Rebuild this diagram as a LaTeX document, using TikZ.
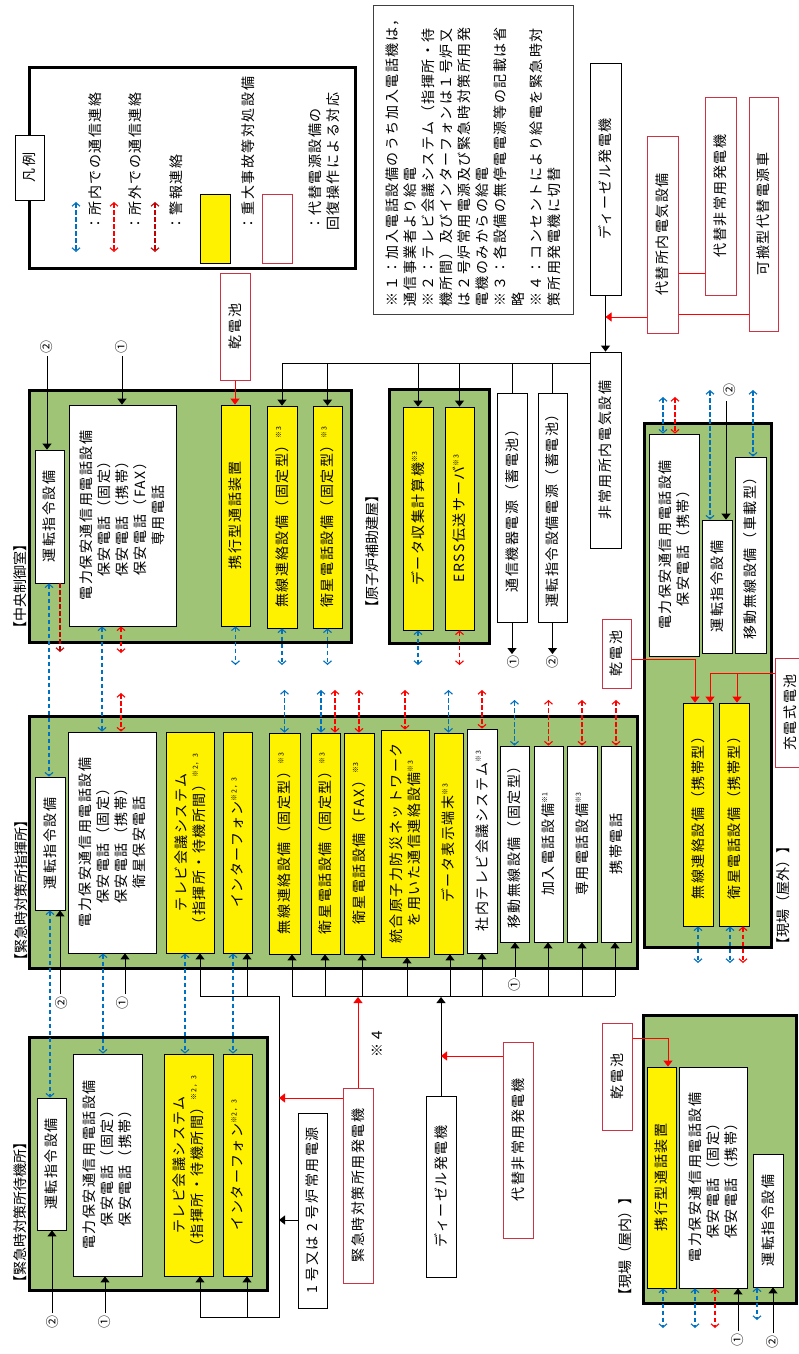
\documentclass[tikz,border=0pt]{standalone}
\usepackage{fontspec}
\setmainfont{Noto Sans CJK JP}
\newfontfamily\jp{Noto Sans CJK JP}[LetterSpace=11]
\newfontfamily\jpl{Noto Sans CJK JP}[LetterSpace=0]
\usetikzlibrary{arrows.meta}
\definecolor{grn}{RGB}{160,196,118}
\definecolor{rbd}{RGB}{204,51,68}
\definecolor{myblue}{RGB}{0,112,192}
\definecolor{myred}{RGB}{255,0,0}
\definecolor{dkred}{RGB}{192,0,0}
\newcommand\sps[1]{\raisebox{0.45em}{\fontsize{7}{7}\selectfont ※#1}}
\newcommand\bx[7]{\node[#1, minimum width={(#6-#4)*1pt}, minimum height={(#5-#3)*1pt}] (#2) at ({(#3+#5)/2},{-(#4+#6)/2}) {#7};}
\begin{document}
\begin{tikzpicture}[x=1pt,y=1pt,
 bse/.style={rotate=90, inner sep=1pt, align=center, font=\jp\fontsize{14}{18}\selectfont, text=black},
 gbx/.style={bse, draw=black, line width=3pt, fill=grn},
 wbx/.style={bse, draw=black, line width=0.8pt, fill=white},
 ybx/.style={bse, draw=black, line width=0.8pt, fill=yellow},
 rbx/.style={bse, draw=rbd, line width=1pt, fill=white},
 lbl/.style={rotate=90, anchor=west, inner sep=0pt, font=\jpl\fontsize{14}{18}\selectfont},
 lgt/.style={rotate=90, anchor=west, inner sep=0pt, font=\jp\fontsize{14}{18}\selectfont},
 cnum/.style={rotate=90, inner sep=0.5pt, font=\jpl\fontsize{13}{13}\selectfont},
 lnk/.style={draw=black, line width=1pt},
 abk/.style={draw=black, line width=1pt, -{Triangle[length=6pt,width=9pt]}},
 ard/.style={draw=myred, line width=1pt, -{Triangle[length=6pt,width=9pt]}},
 rln/.style={draw=myred, line width=1pt},
 dsh/.style={line width=1.1pt, dash pattern=on 4.5pt off 2.5pt},
 tipb/.tip={Straight Barb[length=3.5pt,width=8pt]},
 abd/.style={dsh, draw=myblue, tipb-tipb},
 ared/.style={dsh, draw=myred, tipb-tipb},
 akd/.style={dsh, draw=dkred, tipb-tipb},
 akd1/.style={dsh, draw=dkred, -tipb}]
\fill[white] (0,0) rectangle (798,-1354);
\useasboundingbox (0,0) rectangle (798,-1354);

% ---------- legend ----------
\bx{wbx, line width=3pt}{lgf}{29}{68}{355}{268}{}
\bx{wbx}{lgn}{15}{135}{44}{200}{凡例}
\draw[abd] (76,-202) -- (76,-252);
\draw[ared] (114,-202) -- (114,-252);
\draw[akd] (155,-202) -- (155,-252);
\node[lgt] (lt1) at (95,-231) {：所内での通信連絡};
\node[lgt] (lt2) at (135,-231) {：所外での通信連絡};
\node[lgt] (lt3) at (176,-231) {：警報連絡};
\bx{ybx}{lgy}{200}{194}{230}{263}{}
\node[lgt] (lt4) at (248,-231) {：重大事故等対処設備};
\bx{rbx}{lgr}{262}{194}{292}{263}{}
\node[lgt, align=left, anchor=north west] (lt5) at (309,-231) {：代替電源設備の\\回復操作による対応};

% ---------- notes ----------
\node[bse, draw=black!75, line width=1pt, fill=white, align=left, text width=292pt,
  minimum width=308pt, minimum height=200pt] (notes) at (473,-160)
 {※１：加入電話設備のうち加入電話機は，\\通信事業者より給電\\※２：テレビ会議システム（指揮所・待\\機所間）及びインターフォンは１号炉又\\は２号炉常用電源及び緊急時対策所用発\\電機のみからの給電\\※３：各設備の無停電電源等の記載は省\\略\\※４：コンセントにより給電を緊急時対\\策所用発電機に切替};

% ---------- group boxes ----------
\bx{gbx}{ccr}{29}{390}{351}{642}{}
\bx{gbx}{gen}{389}{389}{489}{643}{}
\bx{gbx}{gy}{644}{423}{771}{947}{}
\bx{gbx}{sk}{29}{716}{637}{968}{}
\bx{gbx}{tk}{29}{1037}{267}{1290}{}
\bx{gbx}{ok}{643}{1015}{796}{1303}{}

\node[lbl] (lccr) at (20,-636) {【中央制御室】};
\node[lbl] (lgen) at (372,-615) {【原子炉補助建屋】};
\node[lbl] (lsk) at (21,-968) {【緊急時対策所指揮所】};
\node[lbl] (ltk) at (20,-1290) {【緊急時対策所待機所】};
\node[lbl] (lgy) at (783,-952) {【現場（屋外）】};
\node[lbl] (lok) at (625,-1303) {【現場（屋内）】};

% ---------- top right power ----------
\bx{wbx}{dg1}{590}{63}{621}{295}{ディーゼル発電機}
\bx{wbx}{hj}{590}{352}{621}{548}{非常用所内電気設備}
\bx{rbx}{dsn}{647}{136}{678}{333}{代替所内電気設備}
\bx{rbx}{dh1}{705}{97}{736}{295}{代替非常用発電機}
\bx{rbx}{kh}{749}{97}{778}{331}{可搬型代替電源車}

% ---------- central control room ----------
\bx{wbx}{c1}{35}{450}{64}{583}{運転指令設備}
\bx{wbx}{c2}{69}{405}{176}{626}{電力保安通信用電話設備\\保安電話（固定）\\保安電話（携帯）\\保安電話（FAX）\\専用電話}
\bx{ybx}{c3}{221}{405}{250}{626}{携行型通話装置}
\bx{rbx}{cb}{220}{273}{250}{380}{乾電池}
\bx{ybx}{c4}{267}{406}{297}{628}{無線連絡設備（固定型）\sps{3}}
\bx{ybx}{c5}{313}{406}{342}{628}{衛星電話設備（固定型）\sps{3}}
\bx{ybx}{g1}{403}{407}{433}{630}{データ収集計算機\sps{3}}
\bx{ybx}{g2}{445}{407}{474}{630}{ERSS伝送サーバ\sps{3}}
\bx{wbx}{p1}{497}{393}{527}{622}{通信機器電源（蓄電池）}
\bx{wbx}{p2}{538}{393}{567}{622}{運転指令設備電源（蓄電池）}

% ---------- field outdoor ----------
\bx{wbx}{y1}{649}{434}{699}{656}{電力保安通信用電話設備\\保安電話（携帯）}
\bx{wbx}{y2}{702}{520}{732}{653}{運転指令設備}
\bx{wbx}{y3}{735}{457}{766}{653}{移動無線設備（車載型）}
\bx{ybx}{y4}{683}{703}{713}{926}{無線連絡設備（携帯型）}
\bx{ybx}{y5}{719}{703}{749}{926}{衛星電話設備（携帯型）}
\bx{rbx}{ybt}{602}{619}{631}{688}{乾電池}
\bx{rbx}{yc}{775}{658}{806}{767}{充電式電池}

% ---------- command post ----------
\bx{wbx}{s1}{35}{777}{65}{910}{運転指令設備}
\bx{wbx}{s2}{68}{732}{156}{953}{電力保安通信用電話設備\\保安電話（固定）\\保安電話（携帯）\\衛星保安電話}
\bx{ybx}{s3}{166}{732}{214}{953}{テレビ会議システム\\（指揮所・待機所間）\sps{2，3}}
\bx{ybx}{s4}{223}{732}{252}{953}{インターフォン\sps{2，3}}
\bx{ybx}{s5}{269}{733}{300}{954}{無線連絡設備（固定型）\sps{3}}
\bx{ybx}{s6}{311}{733}{340}{954}{衛星電話設備（固定型）\sps{3}}
\bx{ybx}{s7}{344}{733}{374}{954}{衛星電話設備（FAX）\sps{3}}
\bx{ybx}{s8}{381}{730}{429}{957}{統合原子力防災ネットワーク\\を用いた通信連絡設備\sps{3}}
\bx{ybx}{s9}{434}{733}{463}{954}{データ表示端末\sps{3}}
\bx{wbx}{s10}{467}{729}{497}{953}{社内テレビ会議システム\sps{3}}
\bx{wbx}{s11}{500}{746}{529}{942}{移動無線設備（固定型）}
\bx{wbx}{s12}{534}{746}{563}{942}{加入電話設備\sps{1}}
\bx{wbx}{s13}{567}{746}{597}{942}{専用電話設備\sps{3}}
\bx{wbx}{s14}{601}{746}{631}{942}{携帯電話}

% ---------- standby room ----------
\bx{wbx}{t1}{37}{1098}{66}{1230}{運転指令設備}
\bx{wbx}{t2}{73}{1054}{142}{1276}{電力保安通信用電話設備\\保安電話（固定）\\保安電話（携帯）}
\bx{ybx}{t3}{164}{1054}{213}{1276}{テレビ会議システム\\（指揮所・待機所間）\sps{2，3}}
\bx{ybx}{t4}{223}{1054}{252}{1276}{インターフォン\sps{2，3}}

% ---------- bottom power ----------
\bx{wbx}{q1}{298}{1113}{327}{1308}{1 号又は 2 号炉常用電源}
\bx{rbx}{q2}{343}{1088}{373}{1283}{緊急時対策所用発電機}
\bx{wbx}{q3}{426}{1096}{456}{1277}{ディーゼル発電機}
\bx{rbx}{q4}{503}{1042}{533}{1238}{代替非常用発電機}
\node[bse] (n4) at (377,-1043) {※４};

% ---------- field indoor ----------
\bx{rbx}{obt}{602}{1023}{632}{1130}{乾電池}
\bx{ybx}{o1}{647}{1067}{676}{1288}{携行型通話装置}
\bx{wbx}{o2}{679}{1067}{747}{1288}{電力保安通信用電話設備\\保安電話（固定）\\保安電話（携帯）}
\bx{wbx}{o3}{753}{1154}{783}{1287}{運転指令設備}

% ---------- circled numbers ----------
\node[cnum] (m2a) at (47,-347) {②};
\node[cnum] (m1a) at (122,-347) {①};
\node[cnum] (m1b) at (514,-662) {①};
\node[cnum] (m2b) at (553,-662) {②};
\node[cnum] (m2c) at (730,-390) {②};
\node[cnum] (m2d) at (62,-1003) {②};
\node[cnum] (m1d) at (123,-1003) {①};
\node[cnum] (m1e) at (515,-985) {①};
\node[cnum] (m2f) at (53,-1322) {②};
\node[cnum] (m1f) at (105,-1322) {①};
\node[cnum] (m1g) at (738,-1340) {①};
\node[cnum] (m2g) at (773,-1342) {②};

% ---------- solid connectors: top ----------
\draw[abk] (47,-356) -- (47,0 |- c1.east);
\draw[abk] (122,-356) -- (122,0 |- c2.east);
\draw[ard] (cb.west) -- (cb.west |- c3.east);
\draw[lnk] (c4.east |- 0,-363) -- (hj.north |- 0,-363);
\draw[abk] (c4.east |- 0,-363) -- (c4.east);
\draw[abk] (c5.east |- 0,-363) -- (c5.east);
\draw[abk] (g1.east |- 0,-363) -- (g1.east);
\draw[abk] (g2.east |- 0,-363) -- (g2.east);
\draw[lnk] (p1.east |- 0,-363) -- (p1.east);
\draw[lnk] (p2.east |- 0,-363) -- (p2.east);
\draw[abk] (p1.west) -- (p1.west |- 0,-654);
\draw[abk] (p2.west) -- (p2.west |- 0,-654);
\draw[abk] (dg1.west) -- (hj.east);
\draw[ard] (dsn.north |- 0,-317) -- (dg1.west |- 0,-317);
\draw[rln] (dh1.north |- 0,-273) -- (dsn.south |- 0,-273);
\draw[rln] (kh.north |- 0,-314) -- (dsn.south |- 0,-314);

% ---------- field outdoor connectors ----------
\draw[abk] (726,-401) -- (726,0 |- y2.east);
\draw[ard] (ybt.south |- 0,-659) -| (695,0 |- y4.east);
\draw[ard] (yc.north |- 0,-673) -| (710,0 |- y4.east);
\draw[ard] (737,-673) -- (737,0 |- y5.east);
\draw[abd] (663,-397) -- (663,0 |- y1.east);
\draw[ared] (675,-397) -- (675,0 |- y1.east);
\draw[abd] (710,-390) -- (710,0 |- y2.east);
\draw[abd] (753,-390) -- (753,0 |- y3.east);
\draw[abd] (698,0 |- y4.west) -- (698,-963);
\draw[abd] (730,0 |- y5.west) -- (730,-963);
\draw[ared] (743,0 |- y5.west) -- (743,-963);

% ---------- CCR dashed ----------
\draw[abd] (49,0 |- c1.west) -- (49,0 |- s1.east);
\draw[akd1] (60,0 |- c1.west) -- (60,-652);
\draw[abd] (102,0 |- c2.west) -- (102,0 |- s2.east);
\draw[ared] (121,0 |- c2.west) -- (121,-653);
\draw[ared] (121,-693) -- (121,0 |- s2.east);
\draw[abd] (c3.west) -- (c3.west |- 0,-665);
\draw[abd] (c4.west) -- (c4.west |- 0,-665);
\draw[abd] (c5.west) -- (c5.west |- 0,-665);
\draw[abd] (g1.west) -- (g1.west |- 0,-665);
\draw[ared] (g2.west) -- (g2.west |- 0,-665);

% ---------- command post dashed (top) ----------
\draw[abd] (s5.east |- 0,-690) -- (s5.east);
\draw[abd] (321,-690) -- (321,0 |- s6.east);
\draw[ared] (335,-690) -- (335,0 |- s6.east);
\draw[ared] (s7.east |- 0,-690) -- (s7.east);
\draw[ared] (s8.east |- 0,-690) -- (s8.east);
\draw[abd] (s9.east |- 0,-690) -- (s9.east);
\draw[ared] (s10.east |- 0,-690) -- (s10.east);
\draw[abd] (s11.east |- 0,-700) -- (s11.east);
\draw[ared] (s12.east |- 0,-700) -- (s12.east);
\draw[ared] (s13.east |- 0,-700) -- (s13.east);
\draw[ared] (s14.east |- 0,-700) -- (s14.east);

% ---------- command post / standby ----------
\draw[abd] (50,0 |- s1.west) -- (50,0 |- t1.east);
\draw[abd] (103,0 |- s2.west) -- (103,0 |- t2.east);
\draw[abd] (185,0 |- s3.west) -- (185,0 |- t3.east);
\draw[abd] (233,0 |- s4.west) -- (233,0 |- t4.east);
\draw[abk] (60,-994) -- (60,0 |- s1.west);
\draw[abk] (125,-994) -- (125,0 |- s2.west);
\draw[lnk] (200,-996) -- (279,-996) -- (279,-1317) -- (200,-1317);
\draw[abk] (200,-996) -- (200,0 |- s3.west);
\draw[abk] (247,-996) -- (247,0 |- s4.west);
\draw[abk] (200,-1317) -- (200,0 |- t3.west);
\draw[abk] (247,-1317) -- (247,0 |- t4.west);
\draw[abk] (52,-1313) -- (52,0 |- t1.west);
\draw[abk] (105,-1313) -- (105,0 |- t2.west);
\draw[abk] (q1.north |- 0,-1220) -- (279,-1220);
\draw[ard] (q2.north |- 0,-1098) -- (279,-1098);

% ---------- command post power (right) ----------
\draw[lnk] (292,-996) -- (615,-996);
\draw[abk] (292,-996) -- (292,0 |- s5.west);
\draw[abk] (325,-996) -- (325,0 |- s6.west);
\draw[abk] (362,-996) -- (362,0 |- s7.west);
\draw[abk] (407,-996) -- (407,0 |- s8.west);
\draw[abk] (450,-996) -- (450,0 |- s9.west);
\draw[abk] (482,-996) -- (482,0 |- s10.west);
\draw[abk] (548,-996) -- (548,0 |- s12.west);
\draw[abk] (582,-996) -- (582,0 |- s13.west);
\draw[abk] (615,-996) -- (615,0 |- s14.west);
\draw[abk] (515,-977) -- (515,0 |- s11.west);
\draw[ard] (q2.east) -- (q2.east |- 0,-997);
\draw[abk] (q3.east) -- (q3.east |- 0,-997);
\draw[ard] (q4.north |- 0,-1056) -- (q3.east |- 0,-1056);

% ---------- field indoor connectors ----------
\draw[ard] (obt.south |- 0,-1038) -| (668,0 |- o1.east);
\draw[abd] (663,0 |- o1.west) -- (663,-1328);
\draw[abd] (695,0 |- o2.west) -- (695,-1328);
\draw[ared] (715,0 |- o2.west) -- (715,-1328);
\draw[abd] (757,0 |- o3.west) -- (757,-1320);
\draw[abk] (738,-1331) -- (738,0 |- o2.west);
\draw[abk] (773,-1333) -- (773,0 |- o3.west);
\end{tikzpicture}
\end{document}
